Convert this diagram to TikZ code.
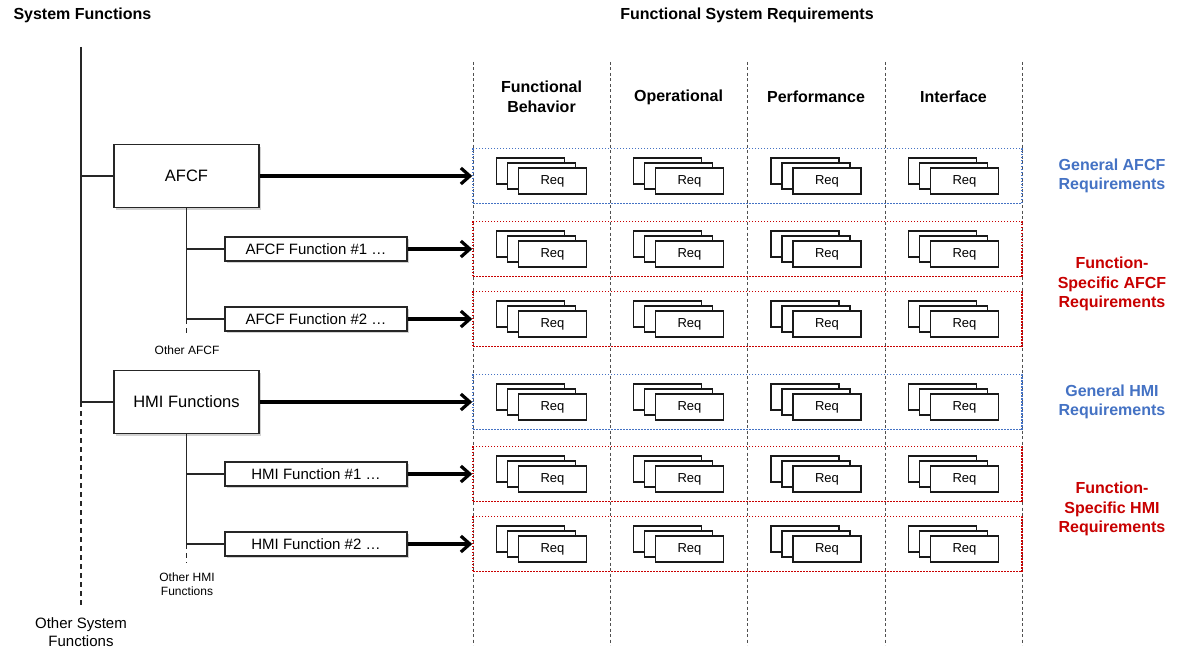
\documentclass[tikz,border=0pt]{standalone}
\usepackage{fontspec}
\setmainfont{Liberation Sans}
\usetikzlibrary{positioning,arrows.meta,shadows}
\definecolor{reqblue}{RGB}{68,114,196}
\definecolor{reqred}{RGB}{200,0,0}
\definecolor{gridgray}{RGB}{80,80,80}

\tikzset{
  funcbox/.style={draw=black!85, line width=1.8pt, fill=white, inner sep=0pt,
    drop shadow={shadow xshift=2pt, shadow yshift=-2pt, opacity=0.35}},
  bigfunc/.style={funcbox, minimum width=145pt, minimum height=63pt, font=\fontsize{16.5}{19}\selectfont},
  subfunc/.style={funcbox, minimum width=182pt, minimum height=24pt, font=\fontsize{15}{18}\selectfont},
  card/.style={draw=black!90, line width=1.8pt, fill=white, minimum width=68pt, minimum height=26pt,
    inner sep=0pt, font=\fontsize{13}{15}\selectfont},
  thickarrow/.style={line width=3.2pt, -{Straight Barb[length=9pt,width=16pt]}},
  tree/.style={line width=1.6pt, draw=black!85},
  treedash/.style={tree, dash pattern=on 5pt off 4pt},
  colline/.style={gridgray, line width=1pt, dash pattern=on 3pt off 2.5pt},
  genrow/.style={draw=reqblue, line width=1.5pt, dash pattern=on 1.5pt off 1.5pt,
    minimum width=549pt, minimum height=55pt, inner sep=0pt},
  specrow/.style={genrow, draw=reqred},
  hdr/.style={font=\fontsize{16}{20}\selectfont\bfseries, align=center},
  sidelbl/.style={font=\fontsize{16}{19.5}\selectfont\bfseries, align=center},
  note/.style={font=\fontsize{12}{14}\selectfont, align=center}
}

\begin{document}
\begin{tikzpicture}[x=1pt,y=-1pt]
\fill[white] (0,0) rectangle (1177,650);
\useasboundingbox (0,0) rectangle (1177,650);

% Titles
\node[hdr, anchor=west] (systitle) at (10,15) {System Functions};
\node[hdr] (reqtitle) at (747,15) {Functional System Requirements};

% Column grid
\foreach \x in {473,610,747,885,1022}
    \draw[colline] (\x,62) -- (\x,645);

% Column headers
\node[hdr] (hbeh) at (541.5,97) {Functional\\Behavior};
\node[hdr] (hop) at (678.5,97) {Operational};
\node[hdr] (hperf) at (816,97) {Performance};
\node[hdr] (hint) at (953.5,97) {Interface};

% Requirement rows (dotted frames)
\foreach \ry/\rs [count=\ri] in {176/genrow,249/specrow,319/specrow,402/genrow,474/specrow,544/specrow}
    \node[\rs] (row\ri) at (747.5,\ry) {};

% Req stacks
\foreach \cx in {541.5,678.5,816,953.5}
    \foreach \ry in {176,249,319,402,474,544} {
        \node[card] at (\cx-11,\ry-5) {};
        \node[card] at (\cx,\ry) {};
        \node[card] at (\cx+11,\ry+5) {Req};
    }

% Row labels
\node[sidelbl, text=reqblue] (genafcf) at (1112,176) {General AFCF\\Requirements};
\node[sidelbl, text=reqred] (specafcf) at (1112,284) {Function-\\Specific AFCF\\Requirements};
\node[sidelbl, text=reqblue] (genhmi) at (1112,402) {General HMI\\Requirements};
\node[sidelbl, text=reqred] (spechmi) at (1112,509) {Function-\\Specific HMI\\Requirements};

% System function tree
\coordinate (systop) at (81,47);
\coordinate (sysend) at (81,608);
\node[bigfunc] (afcf) at (186.5,176) {AFCF};
\node[subfunc] (afcf1) at (316,249) {AFCF Function \#1 …};
\node[subfunc] (afcf2) at (316,319) {AFCF Function \#2 …};
\node[bigfunc] (hmi) at (186.5,402) {HMI Functions};
\node[subfunc] (hmi1) at (316,474) {HMI Function \#1 …};
\node[subfunc] (hmi2) at (316,544) {HMI Function \#2 …};

\draw[tree] (systop) -- (hmi.west -| systop);
\draw[treedash] (hmi.west -| systop) -- (sysend);
\node[font=\fontsize{15}{18}\selectfont, align=center] (othersys) at (81,632) {Other System\\Functions};
\draw[tree] (afcf.west) -- (afcf.west -| systop);
\draw[tree] (hmi.west) -- (hmi.west -| systop);

% AFCF branch
\coordinate (afcfend) at (186.5,336);
\draw[tree] (afcf.south) -- (afcf.south |- afcf2.west) -- (afcf2.west);
\draw[tree] (afcf1.west) -- (afcf1.west -| afcf.south);
\draw[treedash] (afcf.south |- afcf2.west) -- (afcfend);
\node[note] (otherafcf) at (187,350) {Other AFCF};

% HMI branch
\coordinate (hmiend) at (186.5,563);
\draw[tree] (hmi.south) -- (hmi.south |- hmi2.west) -- (hmi2.west);
\draw[tree] (hmi1.west) -- (hmi1.west -| hmi.south);
\draw[treedash] (hmi.south |- hmi2.west) -- (hmiend);
\node[note] (otherhmi) at (187,584) {Other HMI\\Functions};

% Arrows to requirement rows
\draw[thickarrow] (afcf.east) -- (row1.west);
\draw[thickarrow] (afcf1.east) -- (row2.west);
\draw[thickarrow] (afcf2.east) -- (row3.west);
\draw[thickarrow] (hmi.east) -- (row4.west);
\draw[thickarrow] (hmi1.east) -- (row5.west);
\draw[thickarrow] (hmi2.east) -- (row6.west);
\end{tikzpicture}
\end{document}
